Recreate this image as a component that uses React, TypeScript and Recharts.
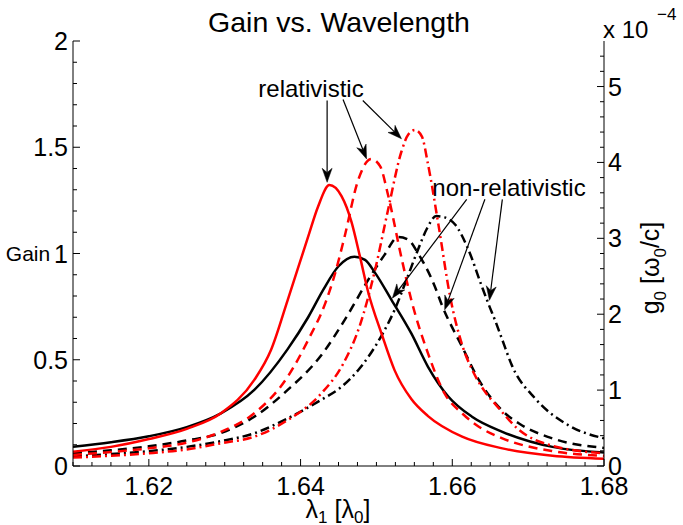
import React from 'react';
import { LineChart, Line, XAxis, YAxis, ReferenceLine } from 'recharts';

const FONT = '"Liberation Sans", Arial, Helvetica, sans-serif';

// [wavelength lambda_1, gain]
const redSolid = [
  [1.61, 0.067], [1.615, 0.09], [1.62, 0.127], [1.625, 0.175], [1.6295, 0.248],
  [1.6339, 0.405], [1.6361, 0.546], [1.6383, 0.781], [1.641, 1.079], [1.6423, 1.22],
  [1.6438, 1.322], [1.6454, 1.27], [1.6467, 1.15], [1.6478, 0.99], [1.6489, 0.82],
  [1.6507, 0.62], [1.6524, 0.45], [1.6546, 0.315], [1.6568, 0.235], [1.6613, 0.138],
  [1.6666, 0.083], [1.6732, 0.048], [1.68, 0.034],
];
const blackSolid = [
  [1.61, 0.091], [1.615, 0.112], [1.62, 0.14], [1.625, 0.183], [1.6295, 0.248],
  [1.6339, 0.358], [1.6383, 0.55], [1.641, 0.7], [1.643, 0.83], [1.645, 0.94],
  [1.6471, 0.985], [1.6485, 0.97], [1.6498, 0.91], [1.652, 0.781], [1.6546, 0.624],
  [1.6568, 0.467], [1.6595, 0.326], [1.6626, 0.232], [1.6666, 0.161], [1.6732, 0.09],
  [1.68, 0.064],
];
const redDashed = [
  [1.61, 0.052], [1.615, 0.066], [1.62, 0.083], [1.625, 0.11], [1.6295, 0.161],
  [1.6339, 0.248], [1.6383, 0.42], [1.641, 0.593], [1.6433, 0.77], [1.6445, 0.9],
  [1.6458, 1.079], [1.6476, 1.346], [1.6493, 1.445], [1.6505, 1.41], [1.6515, 1.28],
  [1.6533, 0.98], [1.6546, 0.781], [1.6568, 0.53], [1.659, 0.34], [1.6613, 0.248],
  [1.6635, 0.185], [1.6666, 0.13], [1.6732, 0.07], [1.68, 0.048],
];
const blackDashed = [
  [1.61, 0.06], [1.615, 0.074], [1.62, 0.093], [1.625, 0.12], [1.6295, 0.155],
  [1.6339, 0.232], [1.6383, 0.358], [1.6427, 0.52], [1.6462, 0.71], [1.6489, 0.875],
  [1.651, 0.99], [1.6529, 1.078], [1.6542, 1.065], [1.6555, 1.0], [1.6577, 0.845],
  [1.6586, 0.76], [1.6613, 0.561], [1.6635, 0.405], [1.6666, 0.26], [1.6688, 0.2],
  [1.6732, 0.13], [1.68, 0.085],
];
const redDashDot = [
  [1.61, 0.04], [1.615, 0.048], [1.62, 0.06], [1.625, 0.078], [1.6295, 0.107],
  [1.6339, 0.138], [1.6383, 0.216], [1.6427, 0.34], [1.6456, 0.48], [1.6478, 0.66],
  [1.6498, 0.92], [1.6515, 1.2], [1.6533, 1.48], [1.6542, 1.56], [1.6551, 1.581],
  [1.656, 1.55], [1.6568, 1.42], [1.6582, 1.13], [1.6597, 0.8], [1.6613, 0.57],
  [1.6628, 0.44], [1.6643, 0.35], [1.6657, 0.29], [1.6688, 0.17], [1.6732, 0.095],
  [1.68, 0.06],
];
const blackDashDot = [
  [1.61, 0.045], [1.615, 0.056], [1.62, 0.07], [1.625, 0.09], [1.6295, 0.117],
  [1.6339, 0.154], [1.6383, 0.224], [1.6427, 0.311], [1.6454, 0.373], [1.6478, 0.46],
  [1.6507, 0.615], [1.6524, 0.735], [1.654, 0.88], [1.6555, 1.02], [1.6567, 1.12],
  [1.6579, 1.176], [1.659, 1.17], [1.6604, 1.135], [1.6621, 1.02], [1.6639, 0.845],
  [1.6648, 0.76], [1.6657, 0.68], [1.6666, 0.593], [1.6679, 0.47], [1.671, 0.315],
  [1.6754, 0.19], [1.68, 0.13],
];

// annotation arrows: [fromX, fromGain, toX, toGain]
const relArrows = [
  [1.6435, 1.72, 1.6435, 1.335],
  [1.6456, 1.725, 1.6487, 1.445],
  [1.6482, 1.72, 1.6533, 1.54],
];
const nonRelArrows = [
  [1.6619, 1.255, 1.6521, 0.79],
  [1.6643, 1.255, 1.659, 0.735],
  [1.6666, 1.255, 1.6649, 0.78],
];

const xMajor = [1.62, 1.64, 1.66, 1.68];
const gainMajor = [0, 0.5, 1, 1.5, 2];
const g0Major = [0, 1, 2, 3, 4, 5];

const steps = (a: number, b: number, s: number) => {
  const out: number[] = [];
  for (let i = 0; a + i * s <= b + 1e-9; i++) out.push(+(a + i * s).toFixed(5));
  return out;
};
const xTicks = steps(1.61, 1.68, 0.0025);
const gainTicks = steps(0, 2, 0.1);
const g0Ticks = steps(0, 5.4, 0.2);

const isMajor = (v: number, list: number[]) => list.some((m) => Math.abs(m - v) < 1e-6);
const rows = (pts: number[][]) => pts.map(([x, g]) => ({ x, g }));

const LBL = 25;

function BottomTick({ x, y, payload }: any) {
  const major = isMajor(payload.value, xMajor);
  return (
    <g>
      <line x1={x} y1={y} x2={x} y2={y - (major ? 7 : 4)} stroke="#000" />
      {major && (
        <text x={x} y={y + 29} textAnchor="middle" fontSize={LBL} fontFamily={FONT} fill="#000">
          {payload.value.toFixed(2)}
        </text>
      )}
    </g>
  );
}

function TopTick({ x, y, payload }: any) {
  const major = isMajor(payload.value, xMajor);
  return <line x1={x} y1={y} x2={x} y2={y + (major ? 7 : 4)} stroke="#000" />;
}

function LeftTick({ x, y, payload }: any) {
  const major = isMajor(payload.value, gainMajor);
  return (
    <g>
      <line x1={x} y1={y} x2={x + (major ? 7 : 4)} y2={y} stroke="#000" />
      {major && (
        <text x={x - 5} y={y + 9} textAnchor="end" fontSize={LBL} fontFamily={FONT} fill="#000">
          {String(payload.value)}
        </text>
      )}
    </g>
  );
}

function RightTick({ x, y, payload }: any) {
  const major = isMajor(payload.value, g0Major);
  return (
    <g>
      <line x1={x} y1={y} x2={x - (major ? 7 : 4)} y2={y} stroke="#000" />
      {major && (
        <text x={x + 4} y={y + 9} textAnchor="start" fontSize={LBL} fontFamily={FONT} fill="#000">
          {String(payload.value)}
        </text>
      )}
    </g>
  );
}

function ArrowShape(props: any) {
  const { x1, y1, x2, y2 } = props;
  const a = Math.atan2(y2 - y1, x2 - x1);
  const L = 14;
  const W = 5;
  const bx = x2 - L * Math.cos(a);
  const by = y2 - L * Math.sin(a);
  const nx = x2 - 0.7 * L * Math.cos(a);
  const ny = y2 - 0.7 * L * Math.sin(a);
  const px = -Math.sin(a) * W;
  const py = Math.cos(a) * W;
  return (
    <g>
      <line x1={x1} y1={y1} x2={nx} y2={ny} stroke="#000" strokeWidth={1.2} />
      <path
        d={`M${x2},${y2} L${bx + px},${by + py} L${nx},${ny} L${bx - px},${by - py} Z`}
        fill="#000"
        stroke="#000"
        strokeWidth={0.5}
      />
    </g>
  );
}

const series = [
  { key: 'bs', pts: blackSolid, color: '#000000', dash: undefined },
  { key: 'bd', pts: blackDashed, color: '#000000', dash: '9 6' },
  { key: 'bdd', pts: blackDashDot, color: '#000000', dash: '9 4 2 4' },
  { key: 'rs', pts: redSolid, color: '#ff0000', dash: undefined },
  { key: 'rd', pts: redDashed, color: '#ff0000', dash: '9 6' },
  { key: 'rdd', pts: redDashDot, color: '#ff0000', dash: '9 4 2 4' },
];

export default function App() {
  return (
    <div style={{ position: 'absolute', left: 0, top: 0, width: 683, height: 525, background: '#fff' }}>
      <LineChart width={683} height={525} margin={{ top: 41, right: 29, bottom: 9, left: 13 }}>
        <XAxis
          xAxisId="b"
          dataKey="x"
          type="number"
          domain={[1.61, 1.68]}
          allowDataOverflow
          ticks={xTicks}
          interval={0}
          height={50}
          tickSize={0}
          tickMargin={0}
          tickLine={false}
          tick={<BottomTick />}
          axisLine={{ stroke: '#000' }}
        />
        <XAxis
          xAxisId="t"
          orientation="top"
          dataKey="x"
          type="number"
          domain={[1.61, 1.68]}
          allowDataOverflow
          ticks={xTicks}
          interval={0}
          height={0}
          tickSize={0}
          tickMargin={0}
          tickLine={false}
          tick={<TopTick />}
          axisLine={{ stroke: '#000' }}
        />
        <YAxis
          yAxisId="left"
          type="number"
          domain={[0, 2]}
          allowDataOverflow
          ticks={gainTicks}
          interval={0}
          width={60}
          tickSize={0}
          tickMargin={0}
          tickLine={false}
          tick={<LeftTick />}
          axisLine={{ stroke: '#000' }}
        />
        <YAxis
          yAxisId="right"
          orientation="right"
          type="number"
          domain={[0, 5.6]}
          allowDataOverflow
          ticks={g0Ticks}
          interval={0}
          width={50}
          tickSize={0}
          tickMargin={0}
          tickLine={false}
          tick={<RightTick />}
          axisLine={{ stroke: '#000' }}
        />
        {series.map((s) => (
          <Line
            key={s.key}
            data={rows(s.pts)}
            dataKey="g"
            xAxisId="b"
            yAxisId="left"
            type="monotone"
            stroke={s.color}
            strokeWidth={2.5}
            strokeDasharray={s.dash}
            dot={false}
            activeDot={false}
            isAnimationActive={false}
          />
        ))}
        {[...relArrows, ...nonRelArrows].map(([x0, y0, x1, y1], i) => (
          <ReferenceLine
            key={'arr' + i}
            xAxisId="b"
            yAxisId="left"
            segment={[{ x: x0, y: y0 }, { x: x1, y: y1 }]}
            ifOverflow="visible"
            shape={<ArrowShape />}
          />
        ))}
      </LineChart>
      <svg
        width={683}
        height={525}
        style={{ position: 'absolute', left: 0, top: 0, pointerEvents: 'none' }}
        fontFamily={FONT}
      >
        <text x={339} y={32} textAnchor="middle" fontSize={28.5}>Gain vs. Wavelength</text>
        <text x={603} y={38} fontSize={24}>x 10</text>
        <text x={657} y={20} fontSize={17}>−4</text>
        <text x={28} y={261} textAnchor="middle" fontSize={21}>Gain</text>
        <text x={338} y={518} textAnchor="middle" fontSize={LBL}>
          λ<tspan dy={5} fontSize={17}>1</tspan>
          <tspan dy={-5}> [λ</tspan>
          <tspan dy={5} fontSize={17}>0</tspan>
          <tspan dy={-5}>]</tspan>
        </text>
        <text x={0} y={0} textAnchor="middle" fontSize={LBL} transform="translate(659,268) rotate(-90)">
          g<tspan dy={7} fontSize={17}>0</tspan>
          <tspan dy={-7}> [ω</tspan>
          <tspan dy={7} fontSize={17}>0</tspan>
          <tspan dy={-7}>/c]</tspan>
        </text>
        <text x={311} y={97} textAnchor="middle" fontSize={24}>relativistic</text>
        <text x={509} y={196} textAnchor="middle" fontSize={24}>non-relativistic</text>
      </svg>
    </div>
  );
}
